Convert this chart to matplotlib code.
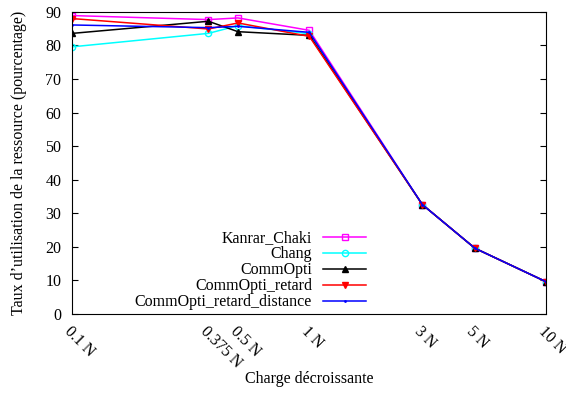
import matplotlib
matplotlib.use("Agg")
import matplotlib.pyplot as plt

plt.rcParams['font.family'] = ['Liberation Serif', 'DejaVu Serif']

# Charges (en multiples de N)
charges = [0.1, 0.375, 0.5, 1, 3, 5, 10]
etiquettes = ['0.1 N', '0.375 N', '0.5 N', '1 N', '3 N', '5 N', '10 N']

# Taux d'utilisation par algorithme
kanrar_chaki = [88.9, 87.7, 88.2, 84.5, 32.6, 19.6, 9.6]
chang = [79.6, 83.6, 85.9, 83.5, 32.6, 19.6, 9.6]
commopti = [83.6, 87.2, 84.1, 83.0, 32.6, 19.6, 9.6]
commopti_retard = [88.0, 84.9, 86.7, 82.7, 32.6, 19.6, 9.6]
commopti_retard_distance = [86.1, 85.3, 85.7, 83.9, 32.6, 19.6, 9.6]

fs = 11.5
fig = plt.figure(figsize=(5.66, 3.96), dpi=100)
ax = fig.add_axes([0.128, 0.207, 0.837, 0.763])

ax.plot(charges, kanrar_chaki, color='#ff00ff', marker='s', mfc='none', ms=5, lw=1.1, label='Kanrar_Chaki')
ax.plot(charges, chang, color='#00ffff', marker='o', mfc='none', ms=4.5, lw=1.1, label='Chang')
ax.plot(charges, commopti, color='black', marker='^', ms=5, lw=1.1, label='CommOpti')
ax.plot(charges, commopti_retard, color='red', marker='v', ms=5, lw=1.1, label='CommOpti_retard')
ax.plot(charges, commopti_retard_distance, color='blue', marker='.', ms=2, lw=1.1, label='CommOpti_retard_distance')

ax.set_xscale('log')
ax.set_xlim(0.1, 10)
ax.set_ylim(0, 90)
ax.set_yticks(range(0, 91, 10))
ax.set_xticks(charges)
ax.set_xticklabels(etiquettes, rotation=-45, ha='left', va='top', rotation_mode='anchor')
ax.minorticks_off()
ax.tick_params(axis='y', direction='in', right=True, labelsize=fs, length=4, pad=8)
ax.tick_params(axis='x', length=0, labelsize=fs, pad=7)

ax.set_xlabel('Charge décroissante', fontsize=fs)
ax.xaxis.set_label_coords(0.5, -0.19)
ax.set_ylabel('Taux d’utilisation de la ressource (pourcentage)', fontsize=fs, labelpad=13)

ax.legend(loc='lower center', bbox_to_anchor=(0.376, -0.035), frameon=False, markerfirst=False,
          numpoints=1, fontsize=fs, handlelength=2.7, labelspacing=0.0, handletextpad=0.7)

fig.savefig('out.png', dpi=100)
